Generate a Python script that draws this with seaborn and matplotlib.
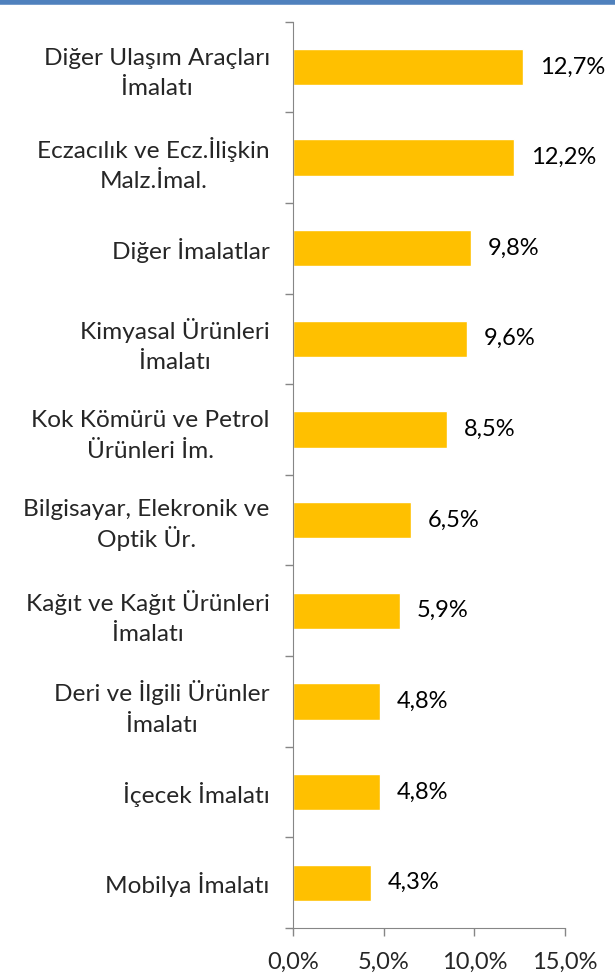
import numpy as np
import pandas as pd
import seaborn as sns
from matplotlib import pyplot as plt
from matplotlib.lines import Line2D
from matplotlib.ticker import FixedLocator

# sector names (two-line labels as in the source) and their shares in percent
sectors = [
    "Diğer Ulaşım Araçları\nİmalatı",
    "Eczacılık ve Ecz.İlişkin\nMalz.İmal.",
    "Diğer İmalatlar",
    "Kimyasal Ürünleri\nİmalatı",
    "Kok Kömürü ve Petrol\nÜrünleri İm.",
    "Bilgisayar, Elekronik ve\nOptik Ür.",
    "Kağıt ve Kağıt Ürünleri\nİmalatı",
    "Deri ve İlgili Ürünler\nİmalatı",
    "İçecek İmalatı",
    "Mobilya İmalatı",
]
shares = [12.7, 12.2, 9.8, 9.6, 8.5, 6.5, 5.9, 4.8, 4.8, 4.3]
x_ticks = [0, 5, 10, 15]

sns.set_style("white")
plt.rcParams['font.family'] = ['Lato', 'DejaVu Sans']
fs = 17.6

df = pd.DataFrame({"Sector": sectors, "Share": shares})

fig = plt.figure(figsize=(6.15, 9.8), dpi=100)
ax = fig.add_axes([0.476, 0.053, 0.443, 0.925])

sns.barplot(data=df, x="Share", y="Sector", orient="h", color="#FFC000",
            saturation=1, width=0.4, ax=ax)

# value labels to the right of each bar
for i, v in enumerate(shares):
    ax.annotate(f"{v:.1f}%".replace(".", ","), xy=(v, i), xytext=(12, 0),
                textcoords="offset points", va="center", ha="left",
                fontsize=17, color="black")

ax.set_xlim(0, 15)
ax.set_ylim(len(sectors) - 0.5, -0.5)
ax.set_xticks(x_ticks)
ax.set_xticklabels([f"{t:.1f}%".replace(".", ",") for t in x_ticks])
ax.set_xlabel("")
ax.set_ylabel("")

# category boundary tick marks on the left axis
ax.yaxis.set_minor_locator(FixedLocator(np.arange(-0.5, len(sectors), 1)))
ax.tick_params(axis="y", which="major", length=0, pad=16.5, labelsize=fs)
ax.tick_params(axis="y", which="minor", length=6, width=1, color="#868686", direction="out", left=True)
ax.tick_params(axis="x", which="major", length=6, width=1, color="#868686", direction="out",
               pad=11, labelsize=17, bottom=True)
for lbl in ax.get_yticklabels():
    lbl.set_multialignment("center")
    # second line starting with a tall accented capital gets extra room, compensate
    if lbl.get_text().startswith("Bilgisayar"):
        lbl.set_linespacing(1.3)
    else:
        lbl.set_linespacing(1.55)

sns.despine(ax=ax, top=True, right=True)
ax.spines["left"].set_color("#868686")
ax.spines["bottom"].set_color("#868686")
ax.grid(False)

# blue rule along the top edge
fig.add_artist(Line2D([0, 1], [0.998, 0.998], color="#4F81BD", linewidth=4,
                      transform=fig.transFigure))

fig.savefig("out.png", dpi=100)
